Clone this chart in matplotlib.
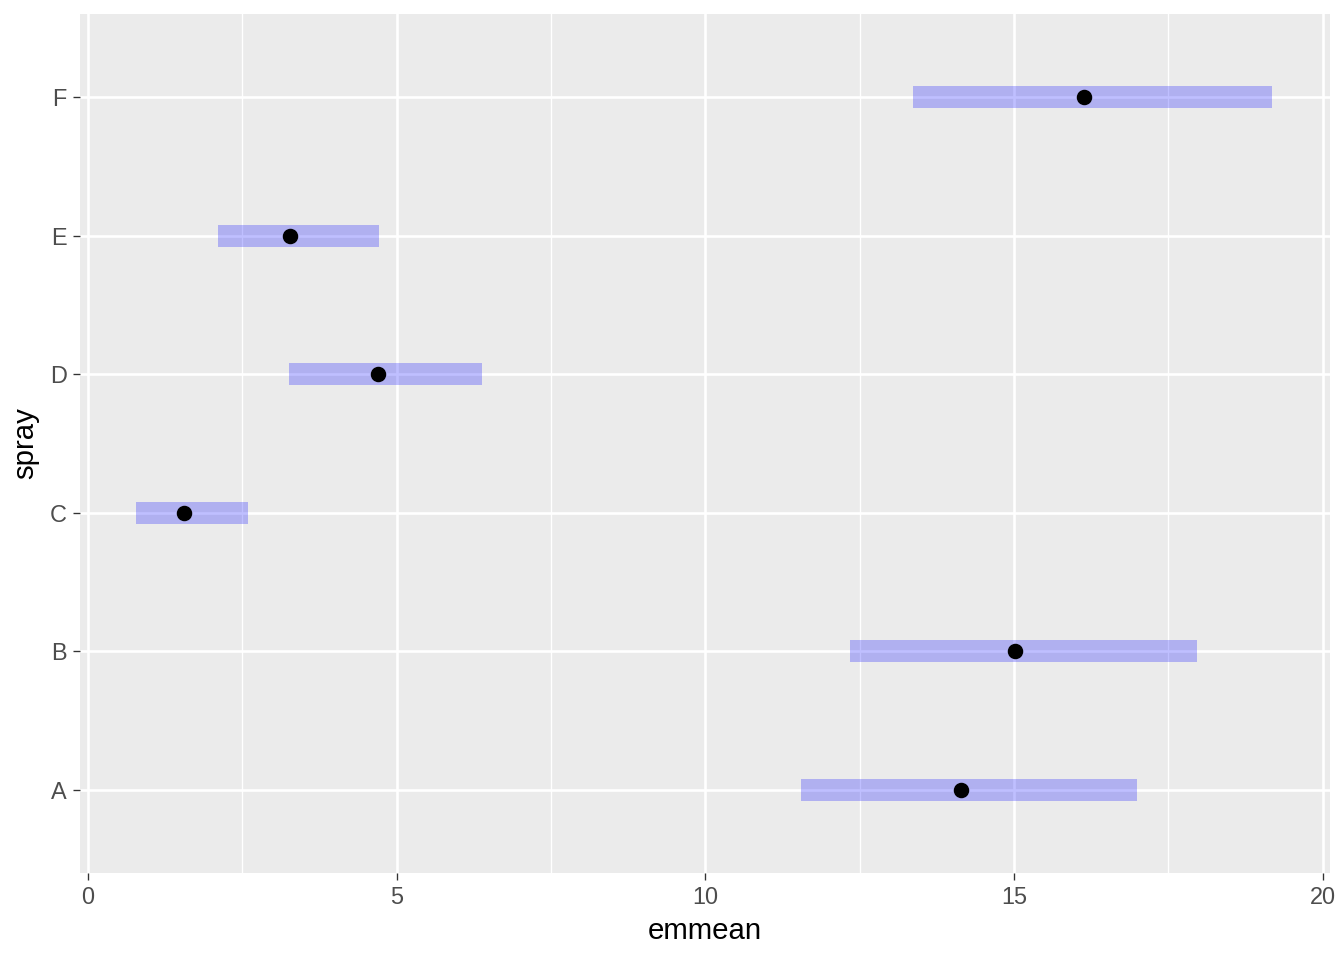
import matplotlib.pyplot as plt
import numpy as np

# emmeans per spray
spray = ['A', 'B', 'C', 'D', 'E', 'F']
emmean = [14.15, 15.02, 1.56, 4.69, 3.28, 16.14]
lower_cl = [11.55, 12.34, 0.78, 3.26, 2.11, 13.37]
upper_cl = [16.99, 17.96, 2.59, 6.38, 4.72, 19.18]

plt.rcParams['font.family'] = ['Liberation Sans', 'DejaVu Sans']

fig = plt.figure(figsize=(7, 5), dpi=192)
ax = fig.add_axes([0.0595, 0.0906, 0.9301, 0.8948])
ax.set_facecolor('#EBEBEB')

ypos = np.arange(1, len(spray) + 1)
lo = np.array(lower_cl)
hi = np.array(upper_cl)

# confidence bars and the means
ax.barh(ypos, hi - lo, left=lo, height=0.16, color='blue', alpha=0.25,
        linewidth=0, zorder=3)
ax.plot(emmean, ypos, 'o', color='black', markersize=4.8, zorder=4)

ax.set_xlim(-0.13, 20.12)
ax.set_ylim(0.4, 6.6)
ax.set_xticks([0, 5, 10, 15, 20])
ax.set_xticks([2.5, 7.5, 12.5, 17.5], minor=True)
ax.set_yticks(ypos)
ax.set_yticklabels(spray)

ax.grid(which='major', color='white', linewidth=1.0, zorder=1)
ax.grid(which='minor', axis='x', color='white', linewidth=0.5, zorder=1)
ax.set_axisbelow(True)
for s in ax.spines.values():
    s.set_visible(False)

ax.tick_params(which='major', length=2.75, width=0.5, color='#333333',
               labelsize=8.8, labelcolor='#4D4D4D', pad=2.2)
ax.tick_params(which='minor', length=0)

ax.set_xlabel('emmean', fontsize=11, labelpad=3)
ax.set_ylabel('spray', fontsize=11, labelpad=4)

fig.savefig('out.png', dpi=192)
